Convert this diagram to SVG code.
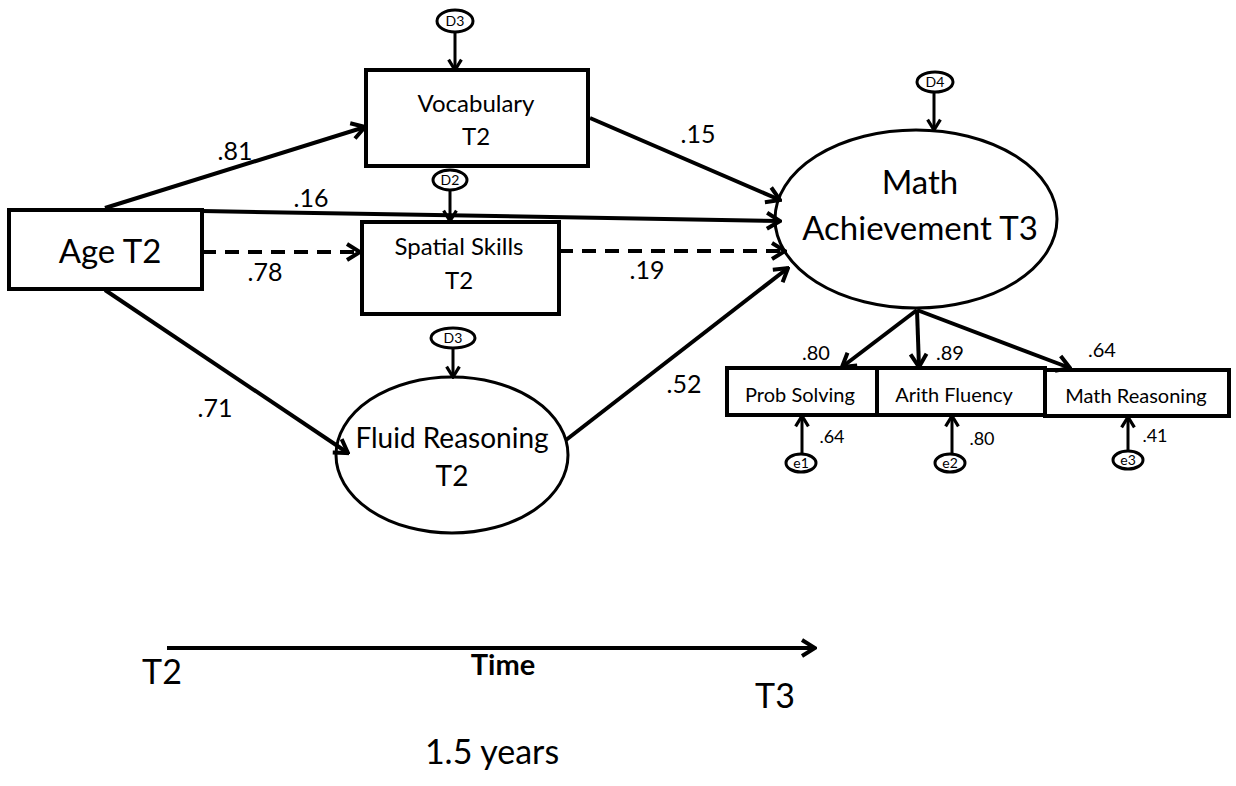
<svg xmlns="http://www.w3.org/2000/svg" width="1236" height="786" viewBox="0 0 1236 786">
<style>
text{font-family:Lato,"Liberation Sans",sans-serif;fill:#000;text-anchor:middle}
.box{fill:#fff;stroke:#000;stroke-width:4}
.ell{fill:#fff;stroke:#000;stroke-width:3}
.err{fill:#fff;stroke:#000;stroke-width:3}
.ln{stroke:#000;stroke-width:4;fill:none;marker-end:url(#ah)}
.dash{stroke-dasharray:14,9}
.sm{stroke:#000;stroke-width:3;fill:none;marker-end:url(#ahs)}
.lbl{font-size:25px}
.mlbl{font-size:20px}
.slbl{font-size:18px}
.dl{font-size:14px}
</style>
<defs>
<marker id="ah" viewBox="0 0 20 20" refX="18" refY="10" markerWidth="20" markerHeight="20" markerUnits="userSpaceOnUse" orient="auto">
<path d="M5,2 L18,10 L5,18" fill="none" stroke="#000" stroke-width="4"/>
</marker>
<marker id="ahs" viewBox="0 0 20 20" refX="18" refY="10" markerWidth="16" markerHeight="16" markerUnits="userSpaceOnUse" orient="auto">
<path d="M5,2 L18,10 L5,18" fill="none" stroke="#000" stroke-width="4"/>
</marker>
</defs>
<rect width="1236" height="786" fill="#fff"/>

<g id="age"><rect class="box" x="9" y="210" width="193" height="79"/><text x="110" y="263" font-size="33">Age T2</text></g>
<g id="vocab"><rect class="box" x="366" y="70" width="222" height="96"/><text x="476" y="112" font-size="24">Vocabulary</text><text x="476" y="145" font-size="24">T2</text></g>
<g id="spatial"><rect class="box" x="362" y="222" width="197" height="92"/><text x="459" y="255" font-size="24">Spatial Skills</text><text x="459" y="289" font-size="24">T2</text></g>
<g id="fluid"><ellipse class="ell" cx="452" cy="455" rx="116" ry="78"/><text x="452" y="448" font-size="28">Fluid Reasoning</text><text x="452" y="486" font-size="28">T2</text></g>
<g id="math"><ellipse class="ell" cx="916" cy="219" rx="141" ry="89"/><text x="920" y="194" font-size="33">Math</text><text x="920" y="240" font-size="33">Achievement T3</text></g>
<g id="prob"><rect class="box" x="727" y="368" width="150" height="47"/><text x="800" y="402" font-size="20">Prob Solving</text></g>
<g id="arith"><rect class="box" x="877" y="368" width="168" height="47"/><text x="954" y="402" font-size="20">Arith Fluency</text></g>
<g id="mreas"><rect class="box" x="1045" y="370" width="184" height="46"/><text x="1136" y="403" font-size="20">Math Reasoning</text></g>
<g id="d3a"><ellipse class="err" cx="455" cy="21" rx="18" ry="11"/><text class="dl" x="455" y="26">D3</text></g>
<g id="d2"><ellipse class="err" cx="450" cy="180" rx="17" ry="10"/><text class="dl" x="450" y="185">D2</text></g>
<g id="d3b"><ellipse class="err" cx="453" cy="338" rx="22" ry="10"/><text class="dl" x="453" y="343">D3</text></g>
<g id="d4"><ellipse class="err" cx="935" cy="82" rx="18" ry="10"/><text class="dl" x="935" y="87">D4</text></g>
<g id="e1"><ellipse class="err" cx="801" cy="463" rx="15" ry="9"/><text class="dl" x="801" y="468">e1</text></g>
<g id="e2"><ellipse class="err" cx="950" cy="463" rx="15" ry="9"/><text class="dl" x="950" y="468">e2</text></g>
<g id="e3"><ellipse class="err" cx="1128" cy="460" rx="15" ry="9"/><text class="dl" x="1128" y="465">e3</text></g>

<g id="connectors">
<line class="ln" x1="105" y1="208" x2="365" y2="127"/>
<line class="ln" x1="202" y1="211" x2="780" y2="221"/>
<line class="ln dash" x1="202" y1="252" x2="360" y2="252"/>
<line class="ln dash" x1="559" y1="251" x2="785" y2="251"/>
<line class="ln" x1="590" y1="118" x2="780" y2="200"/>
<line class="ln" x1="105" y1="290" x2="348" y2="453"/>
<line class="ln" x1="566" y1="440" x2="788" y2="268"/>
<line class="ln" x1="917" y1="310" x2="842" y2="367"/>
<line class="ln" x1="917" y1="310" x2="919" y2="367"/>
<line class="ln" x1="917" y1="310" x2="1070" y2="368"/>
<line class="sm" x1="455" y1="32" x2="455" y2="70"/>
<line class="sm" x1="450" y1="190" x2="450" y2="221"/>
<line class="sm" x1="453" y1="348" x2="453" y2="377"/>
<line class="sm" x1="934" y1="92" x2="934" y2="130"/>
<line class="sm" x1="802" y1="455" x2="802" y2="416"/>
<line class="sm" x1="952" y1="455" x2="952" y2="416"/>
<line class="sm" x1="1128" y1="452" x2="1128" y2="417"/>
<line class="ln" x1="167" y1="648" x2="815" y2="648"/>
<text class="lbl" x="235" y="160">.81</text>
<text class="lbl" x="311" y="207">.16</text>
<text class="lbl" x="265" y="281">.78</text>
<text class="lbl" x="647" y="279">.19</text>
<text class="lbl" x="698" y="143">.15</text>
<text class="lbl" x="215" y="417">.71</text>
<text class="lbl" x="684" y="393">.52</text>
<text class="mlbl" x="816" y="360">.80</text>
<text class="mlbl" x="950" y="360">.89</text>
<text class="mlbl" x="1102" y="357">.64</text>
<text class="slbl" x="832" y="443">.64</text>
<text class="slbl" x="982" y="445">.80</text>
<text class="slbl" x="1155" y="442">.41</text>
</g>

<g id="timeline">
<text x="162" y="684" font-size="34">T2</text>
<text x="503" y="675" font-size="29" font-weight="bold">Time</text>
<text x="775" y="708" font-size="34">T3</text>
<text x="492" y="764" font-size="34">1.5 years</text>
</g>
</svg>
